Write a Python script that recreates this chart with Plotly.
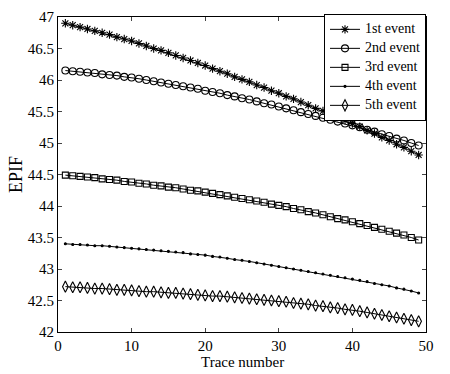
import plotly.graph_objects as go

trace_number = list(range(1, 50))

event1 = [46.90, 46.87, 46.84, 46.81, 46.78, 46.75, 46.72, 46.68, 46.65, 46.62,
          46.58, 46.54, 46.50, 46.47, 46.43, 46.39, 46.35, 46.31, 46.27, 46.23,
          46.18, 46.14, 46.10, 46.05, 46.01, 45.97, 45.92, 45.88, 45.83, 45.79,
          45.74, 45.70, 45.65, 45.60, 45.55, 45.51, 45.46, 45.41, 45.36, 45.31,
          45.26, 45.20, 45.15, 45.09, 45.04, 44.98, 44.93, 44.87, 44.81]

event2 = [46.15, 46.14, 46.13, 46.12, 46.11, 46.09, 46.08, 46.07, 46.05, 46.04,
          46.02, 46.00, 45.98, 45.96, 45.94, 45.92, 45.90, 45.88, 45.86, 45.83,
          45.81, 45.79, 45.76, 45.74, 45.71, 45.69, 45.66, 45.63, 45.61, 45.58,
          45.55, 45.52, 45.49, 45.46, 45.43, 45.40, 45.37, 45.34, 45.31, 45.28,
          45.25, 45.21, 45.18, 45.14, 45.11, 45.07, 45.04, 45.00, 44.96]

event3 = [44.49, 44.48, 44.47, 44.46, 44.45, 44.43, 44.42, 44.41, 44.39, 44.38,
          44.36, 44.35, 44.33, 44.32, 44.30, 44.29, 44.27, 44.25, 44.24, 44.22,
          44.20, 44.18, 44.16, 44.14, 44.12, 44.10, 44.08, 44.06, 44.03, 44.01,
          43.99, 43.96, 43.94, 43.91, 43.89, 43.86, 43.83, 43.80, 43.78, 43.75,
          43.72, 43.69, 43.66, 43.63, 43.60, 43.57, 43.54, 43.50, 43.46]

event4 = [43.40, 43.39, 43.39, 43.38, 43.37, 43.37, 43.36, 43.35, 43.34, 43.33,
          43.32, 43.31, 43.30, 43.29, 43.28, 43.27, 43.26, 43.24, 43.23, 43.22,
          43.20, 43.19, 43.17, 43.15, 43.14, 43.12, 43.10, 43.08, 43.06, 43.04,
          43.02, 43.00, 42.98, 42.96, 42.94, 42.92, 42.90, 42.88, 42.86, 42.84,
          42.82, 42.80, 42.77, 42.75, 42.73, 42.70, 42.68, 42.65, 42.62]

event5 = [42.72, 42.71, 42.71, 42.70, 42.69, 42.69, 42.68, 42.67, 42.67, 42.66,
          42.65, 42.64, 42.64, 42.63, 42.62, 42.62, 42.61, 42.60, 42.59, 42.58,
          42.57, 42.57, 42.56, 42.55, 42.54, 42.53, 42.52, 42.51, 42.50, 42.49,
          42.48, 42.46, 42.45, 42.44, 42.42, 42.41, 42.39, 42.38, 42.36, 42.35,
          42.33, 42.31, 42.29, 42.27, 42.25, 42.23, 42.21, 42.19, 42.17]

names = ["1st event", "2nd event", "3rd event", "4th event", "5th event"]
series = [event1, event2, event3, event4, event5]
symbols = ["asterisk-open", "circle-open", "square-open", "circle", "diamond-tall-open"]
sizes = [7, 7, 6, 2, 8]

x_ticks = [0, 10, 20, 30, 40, 50]
y_ticks = [42, 42.5, 43, 43.5, 44, 44.5, 45, 45.5, 46, 46.5, 47]

fig = go.Figure()
for name, vals, sym, sz in zip(names, series, symbols, sizes):
    fig.add_trace(go.Scatter(
        x=trace_number, y=vals, mode="lines+markers",
        name='<span style="font-size:14px;font-family:Liberation Serif">' + name + "</span>",
        line=dict(color="black", width=1),
        marker=dict(symbol=sym, size=sz, color="black",
                    line=dict(color="black", width=1.1)),
    ))

font = dict(family="Liberation Serif", size=15, color="black")
fig.update_layout(
    width=450, height=374,
    margin=dict(l=58, r=24, t=9, b=42),
    paper_bgcolor="white", plot_bgcolor="white",
    font=font,
    showlegend=True,
    legend=dict(x=1, y=1.01, xanchor="right", yanchor="top",
                bgcolor="white", bordercolor="black", borderwidth=1,
                font=dict(family="Liberation Serif", size=9, color="black"),
                tracegroupgap=0, itemwidth=30),
    annotations=[dict(text="Trace number", xref="paper", yref="paper",
                      x=0.5, y=-0.094, xanchor="center", yanchor="middle",
                      showarrow=False, font=font)],
)
fig.update_xaxes(
    range=[0, 50], tickvals=x_ticks, ticks="inside", ticklen=4,
    showline=True, linecolor="black", linewidth=1, mirror="ticks",
    showgrid=False, zeroline=False, tickfont=font,
)
fig.update_yaxes(
    range=[42, 47], tickvals=y_ticks, ticktext=[f"{v:g}" for v in y_ticks],
    ticks="inside", ticklen=4,
    showline=True, linecolor="black", linewidth=1, mirror="ticks",
    showgrid=False, zeroline=False,
    title=dict(text="EPIF", standoff=0), tickfont=font,
)

fig.write_html(
    "out.html",
    config={"displayModeBar": False},
    post_script="document.body.style.margin='0';document.body.style.overflow='hidden';",
)
